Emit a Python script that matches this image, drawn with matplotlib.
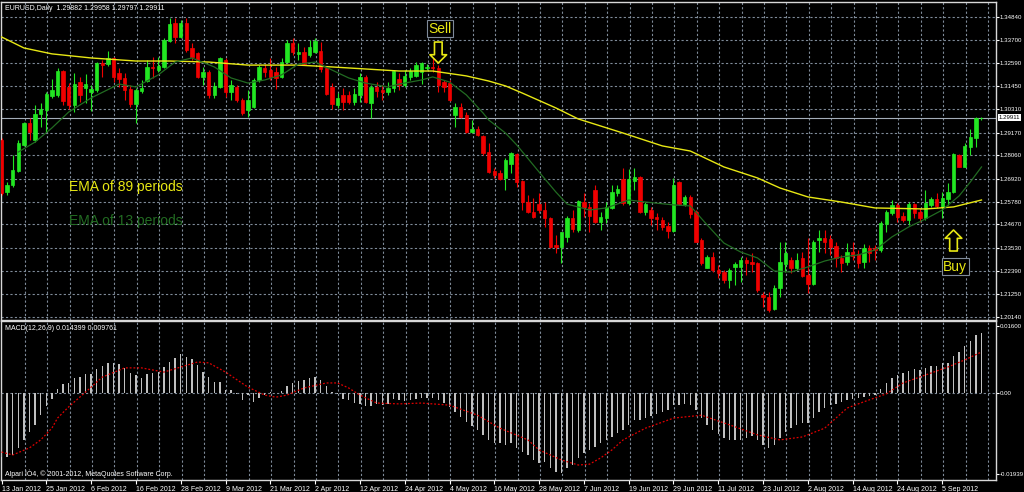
import numpy as np
import matplotlib
matplotlib.use('Agg')
import matplotlib.pyplot as plt

plt.rcParams['font.family'] = ['Liberation Sans', 'DejaVu Sans']

## data (EURUSD daily, 13 Jan - 14 Sep 2012)
opens = [1.2881, 1.2626, 1.2660, 1.2729, 1.2856, 1.2964, 1.2881, 1.3008, 1.3028, 1.3097,
         1.3102, 1.3219, 1.3141, 1.3052, 1.3165, 1.3136, 1.3116, 1.3126, 1.3258, 1.3253,
         1.3283, 1.3209, 1.3185, 1.3131, 1.3058, 1.3121, 1.3170, 1.3239, 1.3224, 1.3239,
         1.3366, 1.3454, 1.3386, 1.3454, 1.3332, 1.3307, 1.3190, 1.3214, 1.3102, 1.3141,
         1.3273, 1.3116, 1.3141, 1.3077, 1.3028, 1.3043, 1.3175, 1.3234, 1.3224, 1.3214,
         1.3190, 1.3263, 1.3356, 1.3303, 1.3312, 1.3298, 1.3312, 1.3317, 1.3234, 1.3141,
         1.3052, 1.3102, 1.3102, 1.3067, 1.3102, 1.3190, 1.3062, 1.3141, 1.3126, 1.3116,
         1.3136, 1.3180, 1.3150, 1.3190, 1.3195, 1.3214, 1.3234, 1.3239, 1.3234, 1.3165,
         1.3160, 1.3004, 1.3043, 1.3004, 1.2920, 1.2935, 1.2901, 1.2822, 1.2729, 1.2719,
         1.2695, 1.2763, 1.2812, 1.2680, 1.2577, 1.2528, 1.2567, 1.2538, 1.2499, 1.2367,
         1.2357, 1.2406, 1.2499, 1.2440, 1.2577, 1.2553, 1.2636, 1.2479, 1.2499, 1.2548,
         1.2621, 1.2690, 1.2572, 1.2680, 1.2700, 1.2528, 1.2538, 1.2504, 1.2489, 1.2460,
         1.2435, 1.2675, 1.2567, 1.2602, 1.2528, 1.2391, 1.2254, 1.2308, 1.2244, 1.2234,
         1.2195, 1.2259, 1.2259, 1.2293, 1.2283, 1.2278, 1.2122, 1.2112, 1.2053, 1.2156,
         1.2274, 1.2293, 1.2254, 1.2303, 1.2220, 1.2175, 1.2391, 1.2401, 1.2396, 1.2362,
         1.2303, 1.2283, 1.2332, 1.2322, 1.2283, 1.2352, 1.2352, 1.2342, 1.2469, 1.2523,
         1.2563, 1.2509, 1.2489, 1.2567, 1.2528, 1.2499, 1.2563, 1.2592, 1.2553, 1.2592,
         1.2626, 1.2807, 1.2749, 1.2847, 1.2891, 1.29882]
highs = [1.2891, 1.2675, 1.2807, 1.2881, 1.2969, 1.2989, 1.3052, 1.3062, 1.3116, 1.3180,
         1.3234, 1.3224, 1.3160, 1.3209, 1.3190, 1.3204, 1.3150, 1.3263, 1.3273, 1.3317,
         1.3288, 1.3234, 1.3209, 1.3150, 1.3136, 1.3175, 1.3273, 1.3288, 1.3288, 1.3381,
         1.3479, 1.3479, 1.3469, 1.3479, 1.3356, 1.3312, 1.3239, 1.3224, 1.3165, 1.3288,
         1.3283, 1.3175, 1.3150, 1.3087, 1.3126, 1.3185, 1.3249, 1.3253, 1.3283, 1.3239,
         1.3283, 1.3371, 1.3381, 1.3356, 1.3337, 1.3371, 1.3381, 1.3361, 1.3239, 1.3160,
         1.3111, 1.3136, 1.3121, 1.3136, 1.3209, 1.3200, 1.3150, 1.3165, 1.3150, 1.3165,
         1.3224, 1.3209, 1.3224, 1.3234, 1.3263, 1.3263, 1.3253, 1.3283, 1.3248, 1.3175,
         1.3175, 1.3062, 1.3062, 1.3018, 1.2979, 1.2950, 1.2906, 1.2866, 1.2744, 1.2734,
         1.2793, 1.2822, 1.2817, 1.2685, 1.2611, 1.2597, 1.2621, 1.2577, 1.2504, 1.2416,
         1.2430, 1.2509, 1.2538, 1.2587, 1.2621, 1.2572, 1.2660, 1.2528, 1.2577, 1.2660,
         1.2660, 1.2744, 1.2739, 1.2744, 1.2705, 1.2577, 1.2553, 1.2523, 1.2504, 1.2479,
         1.2695, 1.2680, 1.2611, 1.2611, 1.2538, 1.2401, 1.2318, 1.2332, 1.2269, 1.2244,
         1.2254, 1.2283, 1.2308, 1.2308, 1.2327, 1.2283, 1.2136, 1.2136, 1.2171, 1.2381,
         1.2381, 1.2308, 1.2327, 1.2332, 1.2401, 1.2391, 1.2440, 1.2440, 1.2416, 1.2381,
         1.2318, 1.2376, 1.2381, 1.2342, 1.2371, 1.2367, 1.2367, 1.2484, 1.2538, 1.2587,
         1.2572, 1.2528, 1.2577, 1.2572, 1.2548, 1.2636, 1.2602, 1.2621, 1.2626, 1.2670,
         1.2817, 1.2812, 1.2866, 1.2935, 1.2994, 1.29958]
lows = [1.2611, 1.2611, 1.2651, 1.2724, 1.2852, 1.2881, 1.2871, 1.2945, 1.2920, 1.3087,
        1.3092, 1.3052, 1.3033, 1.3018, 1.3067, 1.3062, 1.3023, 1.3116, 1.3190, 1.3244,
        1.3165, 1.3141, 1.3077, 1.3043, 1.2964, 1.3111, 1.3165, 1.3185, 1.3214, 1.3234,
        1.3361, 1.3356, 1.3381, 1.3312, 1.3273, 1.3185, 1.3150, 1.3087, 1.3087, 1.3136,
        1.3092, 1.3077, 1.3067, 1.3004, 1.2994, 1.3038, 1.3165, 1.3190, 1.3175, 1.3131,
        1.3185, 1.3258, 1.3298, 1.3273, 1.3248, 1.3288, 1.3307, 1.3214, 1.3102, 1.3033,
        1.3038, 1.3028, 1.3058, 1.3052, 1.3067, 1.3062, 1.2989, 1.3092, 1.3077, 1.3102,
        1.3116, 1.3126, 1.3141, 1.3175, 1.3190, 1.3155, 1.3224, 1.3214, 1.3116, 1.3116,
        1.3072, 1.2945, 1.2989, 1.2915, 1.2915, 1.2901, 1.2807, 1.2719, 1.2695, 1.2685,
        1.2636, 1.2719, 1.2651, 1.2538, 1.2523, 1.2499, 1.2523, 1.2455, 1.2352, 1.2327,
        1.2278, 1.2381, 1.2430, 1.2430, 1.2504, 1.2430, 1.2474, 1.2440, 1.2474, 1.2543,
        1.2607, 1.2562, 1.2562, 1.2636, 1.2523, 1.2514, 1.2464, 1.2440, 1.2440, 1.2401,
        1.2430, 1.2562, 1.2558, 1.2499, 1.2381, 1.2269, 1.2254, 1.2234, 1.2205, 1.2180,
        1.2156, 1.2170, 1.2185, 1.2219, 1.2234, 1.2136, 1.2063, 1.2038, 1.2048, 1.2112,
        1.2234, 1.2229, 1.2244, 1.2210, 1.2131, 1.2170, 1.2332, 1.2327, 1.2318, 1.2259,
        1.2234, 1.2269, 1.2293, 1.2254, 1.2254, 1.2283, 1.2293, 1.2332, 1.2430, 1.2514,
        1.2479, 1.2479, 1.2464, 1.2499, 1.2479, 1.2489, 1.2553, 1.2548, 1.2499, 1.2562,
        1.2621, 1.2749, 1.2749, 1.2807, 1.2847, 1.29797]
closes = [1.2621, 1.2660, 1.2734, 1.2866, 1.2964, 1.2920, 1.3008, 1.3033, 1.3106, 1.3126,
          1.3219, 1.3072, 1.3052, 1.3155, 1.3102, 1.3155, 1.3131, 1.3258, 1.3248, 1.3283,
          1.3190, 1.3180, 1.3126, 1.3058, 1.3126, 1.3136, 1.3239, 1.3234, 1.3244, 1.3371,
          1.3449, 1.3386, 1.3454, 1.3322, 1.3288, 1.3190, 1.3214, 1.3102, 1.3146, 1.3283,
          1.3116, 1.3150, 1.3077, 1.3013, 1.3077, 1.3175, 1.3239, 1.3214, 1.3190, 1.3185,
          1.3263, 1.3356, 1.3312, 1.3312, 1.3253, 1.3337, 1.3366, 1.3229, 1.3106, 1.3058,
          1.3087, 1.3067, 1.3067, 1.3106, 1.3190, 1.3067, 1.3141, 1.3121, 1.3116, 1.3136,
          1.3219, 1.3150, 1.3195, 1.3219, 1.3248, 1.3258, 1.3239, 1.3234, 1.3150, 1.3141,
          1.3077, 1.3043, 1.2994, 1.2920, 1.2935, 1.2906, 1.2817, 1.2724, 1.2709, 1.2690,
          1.2783, 1.2817, 1.2675, 1.2577, 1.2528, 1.2504, 1.2538, 1.2499, 1.2357, 1.2357,
          1.2430, 1.2499, 1.2445, 1.2582, 1.2553, 1.2509, 1.2479, 1.2504, 1.2553, 1.2626,
          1.2641, 1.2572, 1.2690, 1.2700, 1.2528, 1.2567, 1.2499, 1.2494, 1.2455, 1.2435,
          1.2660, 1.2567, 1.2602, 1.2518, 1.2381, 1.2278, 1.2308, 1.2244, 1.2229, 1.2195,
          1.2244, 1.2274, 1.2293, 1.2278, 1.2274, 1.2146, 1.2112, 1.2048, 1.2156, 1.2283,
          1.2327, 1.2254, 1.2293, 1.2215, 1.2175, 1.2381, 1.2401, 1.2381, 1.2357, 1.2303,
          1.2278, 1.2332, 1.2313, 1.2278, 1.2352, 1.2327, 1.2342, 1.2474, 1.2528, 1.2563,
          1.2504, 1.2489, 1.2567, 1.2523, 1.2499, 1.2572, 1.2592, 1.2558, 1.2597, 1.2626,
          1.2812, 1.2749, 1.2852, 1.2896, 1.2989, 1.29911]

# moving averages, read at a subset of bars
ema89_idx = [0, 4, 9, 16, 24, 30, 37, 44, 53, 59, 65, 71, 77, 83, 87, 90, 93, 99, 103, 111,
             118, 123, 129, 135, 139, 144, 150, 156, 165, 170, 175]
ema89_val = [1.3386, 1.3332, 1.3303, 1.3283, 1.3268, 1.3268, 1.3263, 1.3248, 1.3248, 1.3239,
             1.3229, 1.3219, 1.3219, 1.3195, 1.3170, 1.3146, 1.3111, 1.3038, 1.2984, 1.2915,
             1.2852, 1.2827, 1.2749, 1.2695, 1.2646, 1.2602, 1.2577, 1.2548, 1.2543, 1.2553,
             1.2587]
ema13_idx = [3, 6, 9, 12, 16, 21, 24, 28, 31, 34, 38, 41, 44, 47, 50, 53, 56, 59, 62, 65,
             69, 71, 75, 77, 80, 83, 86, 87, 90, 92, 96, 99, 101, 105, 108, 112, 115, 120, 123,
             126, 129, 132, 135, 138, 141, 144, 147, 150, 153, 156, 159, 162, 165, 168, 171,
             173, 175]
ema13_val = [1.2822, 1.2871, 1.2940, 1.3018, 1.3087, 1.3155, 1.3141, 1.3200, 1.3263, 1.3283,
             1.3239, 1.3185, 1.3160, 1.3175, 1.3200, 1.3253, 1.3263, 1.3224, 1.3185, 1.3160,
             1.3141, 1.3155, 1.3175, 1.3190, 1.3165, 1.3102, 1.3013, 1.2979, 1.2915, 1.2857,
             1.2724, 1.2626, 1.2567, 1.2538, 1.2548, 1.2587, 1.2577, 1.2563, 1.2558, 1.2465,
             1.2376, 1.2332, 1.2303, 1.2239, 1.2234, 1.2259, 1.2288, 1.2308, 1.2318, 1.2342,
             1.2406, 1.2455, 1.2494, 1.2538, 1.2607, 1.2675, 1.2749]

# MACD(12,26,9) main line (drawn as histogram) and signal
macd_main = [-0.0153, -0.0153, -0.0148, -0.0131, -0.0112, -0.0093, -0.0076, -0.0053, -0.0031, -0.0014,
             0.0010, 0.0021, 0.0024, 0.0036, 0.0038, 0.0045, 0.0045, 0.0057, 0.0064, 0.0072,
             0.0072, 0.0069, 0.0060, 0.0048, 0.0043, 0.0036, 0.0045, 0.0048, 0.0050, 0.0062,
             0.0074, 0.0084, 0.0093, 0.0086, 0.0081, 0.0067, 0.0050, 0.0038, 0.0026, 0.0026,
             0.0007, 0.0007, -0.0002, -0.0017, -0.0005, -0.0021, -0.0012, -0.0005, 0.0002, 0.0000,
             0.0005, 0.0017, 0.0024, 0.0029, 0.0031, 0.0036, 0.0038, 0.0031, 0.0017, 0.0002,
             -0.0002, -0.0014, -0.0017, -0.0024, -0.0026, -0.0031, -0.0031, -0.0026, -0.0029, -0.0026,
             -0.0014, -0.0017, -0.0019, -0.0017, -0.0014, -0.0012, -0.0012, -0.0012, -0.0017, -0.0024,
             -0.0033, -0.0045, -0.0057, -0.0069, -0.0079, -0.0088, -0.0100, -0.0112, -0.0119, -0.0119,
             -0.0124, -0.0119, -0.0131, -0.0141, -0.0148, -0.0160, -0.0167, -0.0165, -0.0179, -0.0189,
             -0.0191, -0.0179, -0.0172, -0.0155, -0.0143, -0.0136, -0.0129, -0.0119, -0.0112, -0.0105,
             -0.0096, -0.0088, -0.0076, -0.0064, -0.0064, -0.0060, -0.0055, -0.0050, -0.0045, -0.0041,
             -0.0029, -0.0029, -0.0026, -0.0029, -0.0041, -0.0060, -0.0076, -0.0088, -0.0098, -0.0107,
             -0.0112, -0.0112, -0.0112, -0.0107, -0.0103, -0.0112, -0.0124, -0.0131, -0.0124, -0.0107,
             -0.0093, -0.0084, -0.0076, -0.0072, -0.0072, -0.0060, -0.0045, -0.0036, -0.0029, -0.0026,
             -0.0021, -0.0017, -0.0014, -0.0012, -0.0010, -0.0007, -0.0005, 0.0010, 0.0024, 0.0036,
             0.0043, 0.0048, 0.0053, 0.0057, 0.0055, 0.0060, 0.0064, 0.0064, 0.0072, 0.0072,
             0.0088, 0.0098, 0.0112, 0.0124, 0.0139, 0.0144]
sig_idx = [0, 2, 5, 7, 9, 10, 12, 15, 18, 22, 25, 29, 32, 35, 37, 40, 44, 47, 49, 51,
           54, 58, 60, 62, 64, 67, 71, 75, 80, 85, 89, 94, 96, 100, 103, 105, 107, 109, 111, 115,
           120, 125, 130, 135, 139, 143, 147, 151, 154, 158, 161, 165, 169, 172, 175]
sig_val = [-0.0141, -0.0148, -0.0131, -0.0112, -0.0084, -0.0060, -0.0033, 0.0002, 0.0038, 0.0060,
           0.0060, 0.0050, 0.0062, 0.0074, 0.0072, 0.0050, 0.0014, -0.0005, -0.0010, -0.0005,
           0.0012, 0.0024, 0.0024, 0.0012, -0.0005, -0.0024, -0.0026, -0.0024, -0.0029, -0.0053,
           -0.0084, -0.0112, -0.0136, -0.0160, -0.0172, -0.0170, -0.0155, -0.0136, -0.0112, -0.0084,
           -0.0060, -0.0053, -0.0076, -0.0100, -0.0112, -0.0105, -0.0084, -0.0036, -0.0021, -0.0002,
           0.0024, 0.0043, 0.0062, 0.0079, 0.0098]

date_labels = ['13 Jan 2012', '25 Jan 2012', '6 Feb 2012', '16 Feb 2012', '28 Feb 2012',
               '9 Mar 2012', '21 Mar 2012', '2 Apr 2012', '12 Apr 2012', '24 Apr 2012',
               '4 May 2012', '16 May 2012', '28 May 2012', '7 Jun 2012', '19 Jun 2012',
               '29 Jun 2012', '11 Jul 2012', '23 Jul 2012', '2 Aug 2012', '14 Aug 2012',
               '24 Aug 2012', '5 Sep 2012']
price_levels = [1.34840, 1.33700, 1.32590, 1.31450, 1.30310, 1.29170, 1.28060,
                1.26920, 1.25780, 1.24670, 1.23530, 1.22390, 1.21250, 1.20140]
macd_levels = [0.01600, 0.0, -0.01939]
macd_level_labels = ['0.01600', '0.00', '-0.01939']

# signal annotations: (bar, price)
sell_bar, sell_text_price, sell_arrow = 78, 1.3427, (1.3361, 1.3258)
buy_bar, buy_text_price, buy_arrow = 170, 1.2261, (1.2337, 1.2440)

## colours
BG = 'black'
GRID = '#7f8b99'
FG = 'white'
BULL = '#22e622'
BEAR = '#f00000'
YELLOW = '#e8e814'
DKGREEN = '#226b22'

## figure, positioned in pixels like the terminal window
W, H = 1024, 492
fig = plt.figure(figsize=(W / 100, H / 100), dpi=100, facecolor=BG)


def px_box(x0, y0, x1, y1):
    return [x0 / W, 1 - y1 / H, (x1 - x0) / W, (y1 - y0) / H]


ax = fig.add_axes(px_box(1, 2, 996, 319.5))
axm = fig.add_axes(px_box(1, 321, 996, 480), sharex=ax)

n_bars = len(closes)
bar_idx = np.arange(n_bars)
for a in (ax, axm):
    a.set_facecolor(BG)
    for s in a.spines.values():
        s.set_color('#d8d8d8')
        s.set_linewidth(1.0)
    a.yaxis.tick_right()
    a.tick_params(axis='y', colors=FG, labelsize=4.4, length=2, width=0.8, pad=0.8)
    # vertical grid every 4 bars
    for gx in range(4, n_bars + 2, 4):
        a.axvline(gx + 0.15, color=GRID, lw=0.8, ls=(0, (2, 2)), zorder=0)

ax.set_xlim(-0.09, 177.59)
ax.set_ylim(1.20014, 1.35572)
axm.set_ylim(-0.020779, 0.017196)

# price scale
ax.set_yticks(price_levels)
ax.set_yticklabels([f'{v:.5f}' for v in price_levels])
for lv in price_levels:
    ax.axhline(lv, color=GRID, lw=0.8, ls=(0, (2, 2)), zorder=0)
ax.tick_params(axis='x', bottom=False, labelbottom=False)

# date scale
axm.set_xticks(bar_idx[::8][:len(date_labels)])
axm.set_xticklabels(date_labels)
axm.tick_params(axis='x', colors=FG, labelsize=5, length=3, width=0.8, pad=1)
for lbl in axm.get_xticklabels():
    lbl.set_ha('left')

axm.set_yticks(macd_levels)
axm.set_yticklabels(macd_level_labels)
axm.axhline(0, color=GRID, lw=0.8, ls=(0, (2, 2)), zorder=0)

## candles
o, h, l, c = (np.array(v) for v in (opens, highs, lows, closes))
cols = np.where(c >= o, BULL, BEAR)
ax.vlines(bar_idx, l, h, colors=cols, lw=0.8, zorder=3)
ax.bar(bar_idx, np.abs(c - o), bottom=np.minimum(o, c), width=0.6,
       color=cols, edgecolor=cols, linewidth=0.5, zorder=3)

## moving averages
ax.plot(ema89_idx, ema89_val, color=YELLOW, lw=1.0, zorder=4)
ax.plot(ema13_idx, ema13_val, color=DKGREEN, lw=0.9, zorder=4)

# bid line and its price tag
ax.axhline(closes[-1], color='#a4adb8', lw=0.8, zorder=2)
ax.annotate(f'{closes[-1]:.5f}', xy=(1, closes[-1]), xycoords=('axes fraction', 'data'),
            xytext=(2.2, 0), textcoords='offset points', va='center', ha='left',
            fontsize=4.4, color='black', annotation_clip=False,
            bbox=dict(boxstyle='square,pad=0.1', fc='white', ec='none'))

## text labels
ax.text(0.0682, 0.417, 'EMA of 89 periods', transform=ax.transAxes, color=YELLOW,
        fontsize=10, va='center', ha='left')
ax.text(0.0682, 0.310, 'EMA of 13 periods', transform=ax.transAxes, color=DKGREEN,
        fontsize=10, va='center', ha='left')

box = dict(boxstyle='square,pad=0.12', fc='black', ec='#7f8a99', lw=0.8)
ax.text(sell_bar + 0.3, sell_text_price, 'Sell', color=YELLOW, fontsize=10,
        ha='center', va='center', bbox=box, zorder=6)
ax.text(buy_bar + 0.3, buy_text_price, 'Buy', color=YELLOW, fontsize=10,
        ha='center', va='center', bbox=box, zorder=6)
arrow = dict(arrowstyle='simple,head_length=0.6,head_width=1.2,tail_width=0.55',
             fc='black', ec=YELLOW, lw=1.2, shrinkA=0, shrinkB=0)
ax.annotate('', xy=(sell_bar, sell_arrow[1]), xytext=(sell_bar, sell_arrow[0]),
            arrowprops=arrow, zorder=6)
ax.annotate('', xy=(buy_bar, buy_arrow[1]), xytext=(buy_bar, buy_arrow[0]),
            arrowprops=arrow, zorder=6)

## MACD window
axm.bar(bar_idx, macd_main, width=0.28, color='#c0c0c0', zorder=3)
axm.plot(sig_idx, sig_val, color='#e00000', lw=0.9, ls=(0, (1.5, 1.5)), zorder=4)

## header / footer texts
fig.text(5 / W, 1 - 8 / H, 'EURUSD,Daily  1.29882 1.29958 1.29797 1.29911',
         color=FG, fontsize=5, va='center')
fig.text(5 / W, 1 - 329 / H, 'MACD(12,26,9) 0.014399 0.009761',
         color=FG, fontsize=5, va='center')
fig.text(5 / W, 1 - 474 / H, 'Alpari ÌÒ4, © 2001-2012, MetaQuotes Software Corp.',
         color=FG, fontsize=5, va='center')

fig.savefig('out.png', dpi=100, facecolor=BG)
